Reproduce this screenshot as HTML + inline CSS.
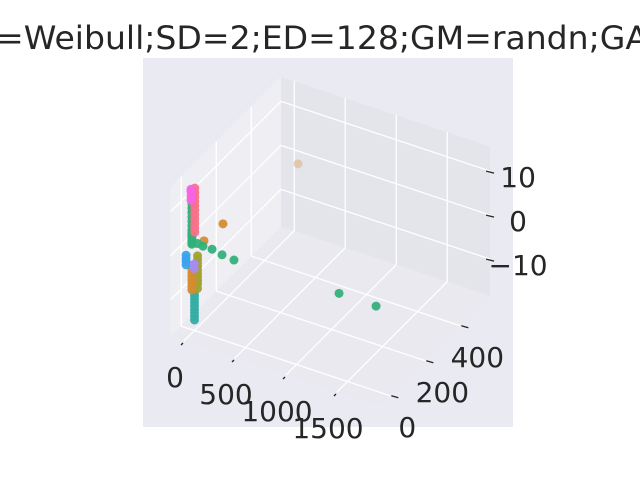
<!DOCTYPE html>
<html><head><meta charset="utf-8"><style>
html,body{margin:0;padding:0;background:#fff;}
svg{display:block;font-family:"DejaVu Sans","Liberation Sans",sans-serif;}
</style></head><body>
<svg id="chart" width="640" height="480" viewBox="0 0 640 480">
<text x="-4" y="49" font-size="32" fill="#262626" textLength="652" lengthAdjust="spacingAndGlyphs">=Weibull;SD=2;ED=128;GM=randn;GA</text>
<rect x="143" y="58" width="370" height="369" fill="#eaeaf2"/>
<g id="panes"></g><g id="grid"></g><g id="ticks"></g><g id="points"></g><g id="labels"></g>
</svg>
<script>
const xTicks=[0,500,1000,1500];
const yTicks=[0,200,400];
const zTicks=[-10,0,10];
const seriesNames=['pink','red','green','orange','olive','teal','blue','purple','tan'];
const seriesColors=['#f564e3','#f77189','#33b07a','#d58c32','#a4a031','#36ada4','#3ba3ec','#a48cf4','#dbb07a'];
const pinkX=[0,0,0,0],pinkY=[-20,-20,-20,-20],pinkZ=[14.5,14,13,12];
const redX=[20,20,20,20,20,20,20,20,20,20,20],redY=[-10,-10,-10,-10,-10,-10,-10,-10,-10,-10,-10],redZ=[14.5,13.5,12.5,11.5,10.5,9.5,8.5,7.5,6.5,5.5,4.5];
const greenX=[0,0,0,0,0,0,0,0,0,0,0,0,0,0,0,30,83,172,270,387,1417,1780],greenY=[-15,-15,-15,-15,-15,-15,-15,-15,-15,-15,-15,-15,-15,-15,-15,0,0,0,0,0,0,0],greenZ=[12,11,10,9,8,7,6,5,4.5,4,3.5,3,2.5,2,1.8,1.6,1.4,1.4,0.9,0.6,1,0.9];
const orangeX=[279,93,0,0,0,0,0,0,0,0],orangeY=[0,0,-15,-15,-15,-15,-15,-15,-15,-15],orangeZ=[8,2.7,-3,-3.8,-4.6,-5.4,-6.2,-7,-7.8,-8.6];
const oliveX=[30,30,30,30,30,30,30,30,30,30],oliveY=[0,0,0,0,0,0,0,0,0,0],oliveZ=[-1.2,-2,-2.8,-3.6,-4.4,-5.2,-6,-6.8,-7.6,-8.6];
const tealX=[0,0,0,0,0,0,0,0,0,0,0],tealY=[0,0,0,0,0,0,0,0,0,0,0],tealZ=[-8,-8.8,-9.6,-10.4,-11.2,-12,-12.8,-13.6,-14.4,-15.2,-16];
const blueX=[-40,-40,-40,-40],blueY=[-25,-25,-25,-25],blueZ=[-0.6,-1.4,-2.1,-2.8];
const purpleX=[40,40],purpleY=[-25,-25],purpleZ=[-2,-3];
const tanX=[328],tanY=[400],tanZ=[6.1];
const allX=[pinkX,redX,greenX,orangeX,oliveX,tealX,blueX,purpleX,tanX];
const allY=[pinkY,redY,greenY,orangeY,oliveY,tealY,blueY,purpleY,tanY];
const allZ=[pinkZ,redZ,greenZ,orangeZ,oliveZ,tealZ,blueZ,purpleZ,tanZ];
const XMIN=-130,XMAX=1920,YMIN=-60,YMAX=570,ZMIN=-18.4,ZMAX=15.6;
function P(x,y,z){return [184+x*0.102+(y+60)*0.175, 341+x*0.034-(y+60)*0.175-(z-ZMIN)*4.4];}
const NS='http://www.w3.org/2000/svg';
function mk(tag,attrs,parent){const e=document.createElementNS(NS,tag);for(const k in attrs)e.setAttribute(k,attrs[k]);document.getElementById(parent).appendChild(e);return e;}
function poly(pts){return pts.map(p=>p.join(',')).join(' ');}
let e;
e=mk('polygon',{points:poly([P(XMIN,YMIN,ZMIN),P(XMIN,YMAX,ZMIN),P(XMIN,YMAX,ZMAX),P(XMIN,YMIN,ZMAX)]),fill:'#efeff3'},'panes');

e=mk('polygon',{points:poly([P(XMIN,YMAX,ZMIN),P(XMAX,YMAX,ZMIN),P(XMAX,YMAX,ZMAX),P(XMIN,YMAX,ZMAX)]),fill:'#e4e4eb'},'panes');

e=mk('polygon',{points:poly([P(XMIN,YMIN,ZMIN),P(XMAX,YMIN,ZMIN),P(XMAX,YMAX,ZMIN),P(XMIN,YMAX,ZMIN)]),fill:'#e9e9ef'},'panes');

function ln(a,b,name,g,col,w){const l=mk('line',{x1:a[0],y1:a[1],x2:b[0],y2:b[1],stroke:col||'#fff','stroke-width':w||1.3},g);}
xTicks.forEach(t=>{ln(P(t,YMIN,ZMIN),P(t,YMAX,ZMIN),'x-grid-floor','grid');ln(P(t,YMAX,ZMIN),P(t,YMAX,ZMAX),'x-grid-back','grid');
 const a=P(t,YMIN,ZMIN);ln([a[0]-3,a[1]+4],[a[0]-1,a[1]+2],'x-tick','ticks','#262626',1.3);
 const tx=mk('text',{x:a[0]-9,y:a[1]+46,'font-size':28,fill:'#262626','text-anchor':'middle'},'labels');tx.textContent=String(t);
 });
yTicks.forEach(t=>{ln(P(XMIN,t,ZMIN),P(XMAX,t,ZMIN),'y-grid-floor','grid');ln(P(XMIN,t,ZMIN),P(XMIN,t,ZMAX),'y-grid-left','grid');
 const a=P(XMAX,t,ZMIN);ln([a[0]+1,a[1]],[a[0]+8,a[1]+2],'y-tick','ticks','#262626',1.3);
 const tx=mk('text',{x:a[0]+17,y:a[1]+41,'font-size':28,fill:'#262626','text-anchor':'middle'},'labels');tx.textContent=String(t);
 });
zTicks.forEach(t=>{ln(P(XMIN,YMIN,t),P(XMIN,YMAX,t),'z-grid-left','grid');ln(P(XMIN,YMAX,t),P(XMAX,YMAX,t),'z-grid-back','grid');
 const a=P(XMAX,YMAX,t);ln([a[0]-4,a[1]],[a[0]+4,a[1]+2],'z-tick','ticks','#262626',1.3);
 const tx=mk('text',{x:a[0]+28,y:a[1]+16,'font-size':28,fill:'#262626','text-anchor':'middle'},'labels');tx.textContent=(t<0?'\u2212':'')+Math.abs(t);
 });
const order=[8,5,4,3,2,1,0,6,7];
order.forEach(s=>{const xs=allX[s],ys=allY[s],zs=allZ[s];
 for(let i=0;i<xs.length;i++){const p=P(xs[i],ys[i],zs[i]);
  const c=mk('circle',{cx:p[0],cy:p[1],r:4.5,fill:seriesColors[s],opacity:s===8?0.55:0.95},'points');
  
  }});
</script>
</body></html>
